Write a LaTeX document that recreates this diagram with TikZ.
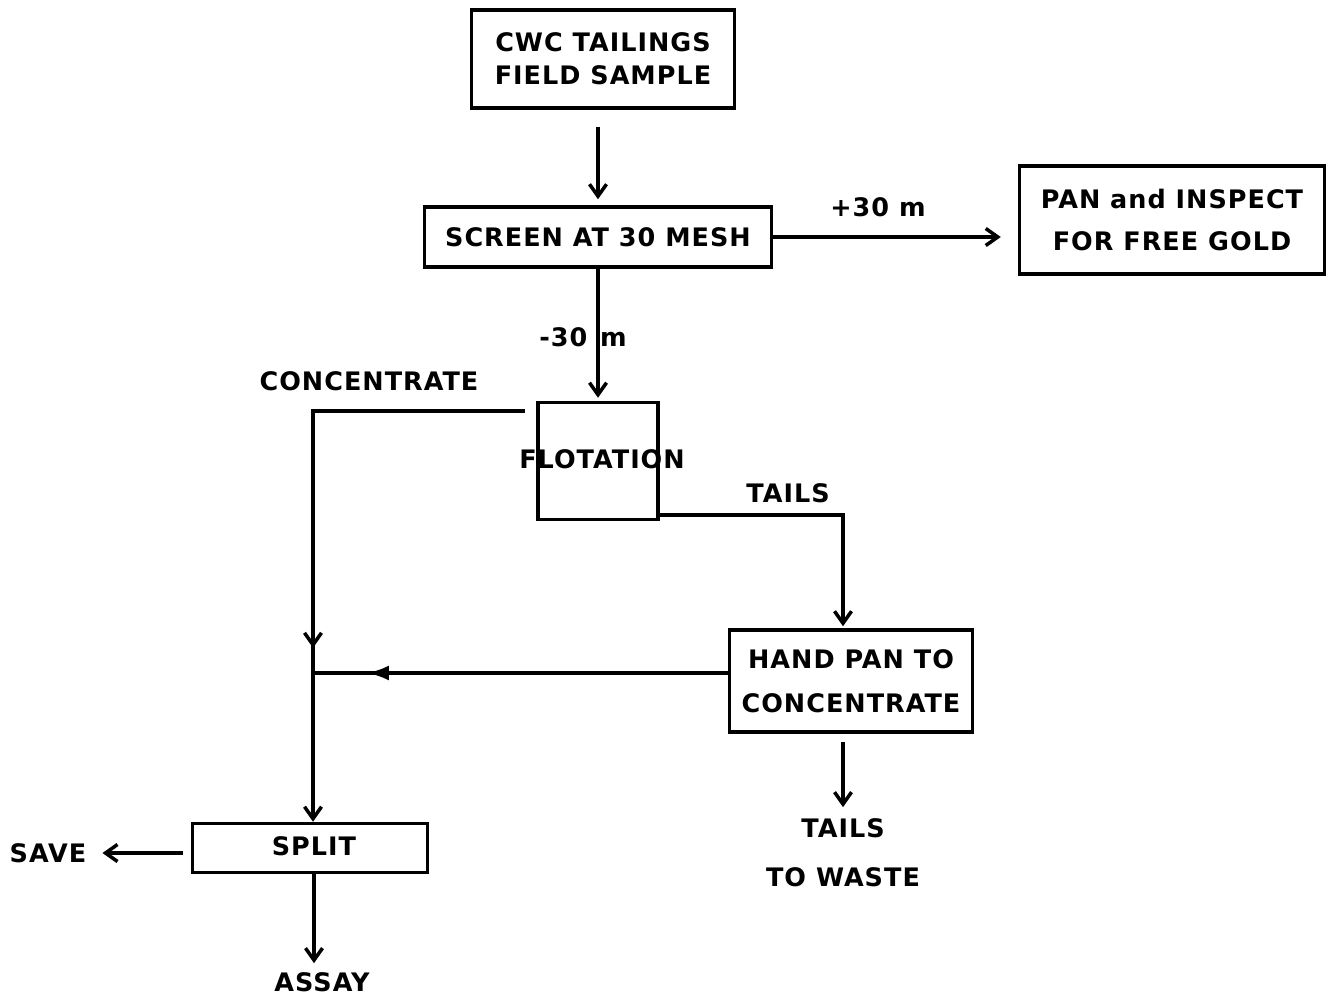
\documentclass[tikz,border=0pt]{standalone}
\usepackage{fontspec}
\newfontfamily\flowfont[LetterSpace=4]{DejaVu Sans}
\usetikzlibrary{arrows.meta,decorations.markings}
\tikzset{procbox/.style={draw,line width=2pt,align=center,inner sep=0pt},
  flow/.style={line width=2pt,-{Straight Barb[length=2.4mm,width=3.4mm]}},
  plain/.style={line width=2pt},
  midbarb/.style={postaction={decorate},decoration={markings,mark=at position #1 with {\arrow{Straight Barb[length=2.4mm,width=3.4mm,line width=2pt]}}}},
  midtri/.style={postaction={decorate},decoration={markings,mark=at position #1 with {\arrow{Latex[length=4.4mm,width=3mm]}}}}}

\begin{document}
\begin{tikzpicture}[x=0.02cm,y=-0.02cm,font=\flowfont\bfseries\fontsize{14.5}{19}\selectfont]
  \useasboundingbox (0,0) rectangle (1331,996);
  \node[procbox,minimum width=5.26cm,minimum height=1.96cm] (cwc) at (603,59) {CWC TAILINGS\\FIELD SAMPLE};
  \node[procbox,minimum width=6.94cm,minimum height=1.2cm] (screen) at (598,237) {SCREEN AT 30 MESH};
  \node[procbox,minimum width=6.1cm,minimum height=2.16cm] (pan) at (1172,220) {PAN and INSPECT\\[5pt]FOR FREE GOLD};
  \node[procbox,minimum width=2.4cm,minimum height=2.34cm] (flot) at (598,461) {};
  \node (flottxt) at (602,459) {FLOTATION};
  \node[procbox,minimum width=4.86cm,minimum height=2.04cm] (hp) at (851,681) {HAND PAN TO\\[6pt]CONCENTRATE};
  \node[procbox,minimum width=4.7cm,minimum height=0.98cm] (split) at (310,848) {};
  \node (splittxt) at (314,846) {SPLIT};
  \node (save) at (48,853) {SAVE}; \node (assay) at (322,982) {ASSAY};
  \node (tw) at (843,828) {TAILS}; \node (tw2) at (843,877) {TO WASTE};
  \node (plus) at (878,207) {+30 m}; \node (minus) at (583,337) {-30\enspace m};
  \node (conc) at (369,381) {CONCENTRATE}; \node (tails) at (788,493) {TAILS};
  \coordinate (c1) at (525,411); \coordinate (c2) at (313,411); \coordinate (j1) at (313,673); \coordinate (t1) at (843,515);
  \draw[flow,shorten <=0.34cm,shorten >=0.12cm] (cwc.south-|screen.north) -- (screen.north);
  \draw[flow,shorten >=0.34cm] (screen.east) -- (screen.east-|pan.west);
  \draw[flow,shorten >=0.06cm] (screen.south) -- (flot.north);
  \draw[plain,midbarb=0.947] (c1) -- (c2) -- (j1);
  \draw[flow] (j1) -- (split.north-|j1);
  \draw[plain,midtri=0.87] (hp.west|-j1) -- (j1);
  \draw[flow,shorten >=0.04cm] (flot.south east|-t1) -- (t1) -- (hp.north-|t1);
  \draw[flow,shorten <=0.16cm,shorten >=0.1cm] (hp.south-|tw.north) -- (tw.north);
  \draw[flow,shorten <=0.16cm,shorten >=0.2cm] (split.west|-save) -- (save.east);
  \draw[flow,shorten >=0.06cm] (split.south-|splittxt) -- (assay.north-|splittxt);
\end{tikzpicture}
\end{document}
